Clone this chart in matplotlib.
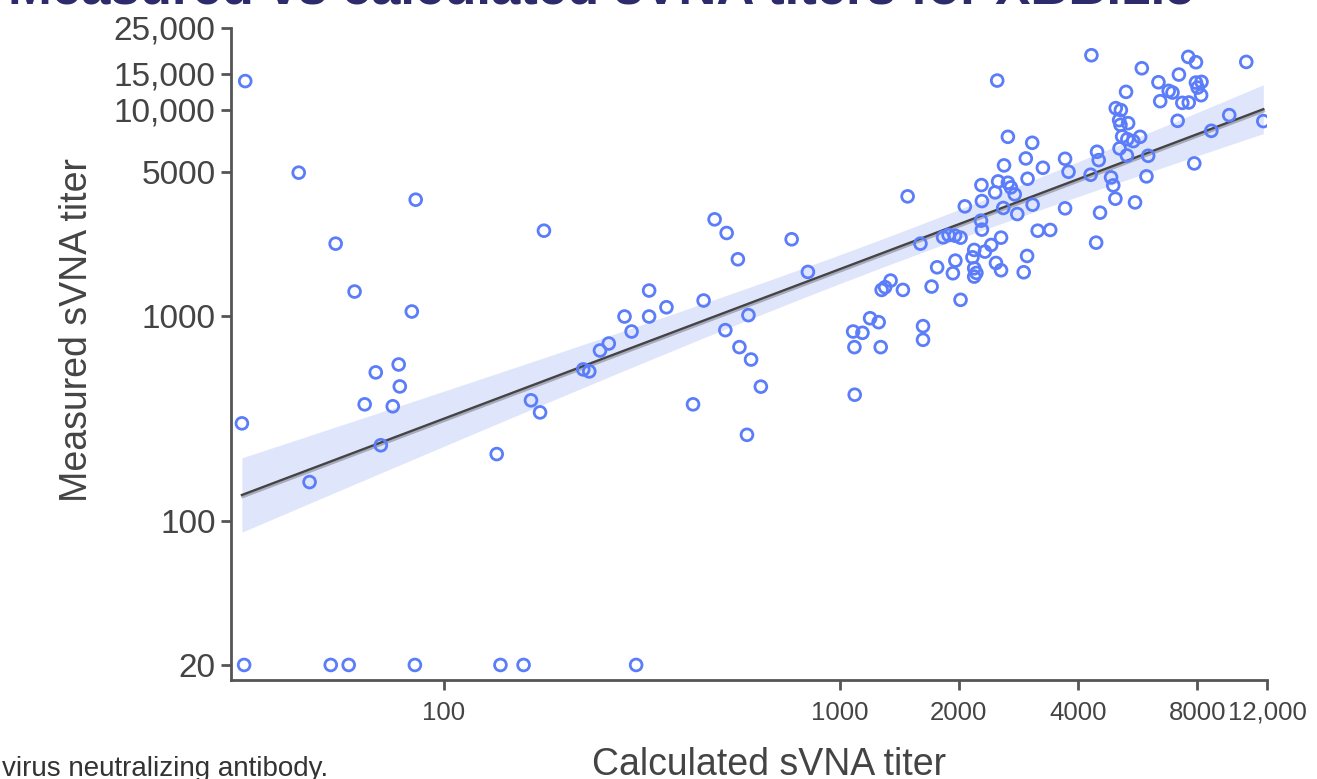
# Measured vs calculated sVNA titers (log-log scatter with fitted line)
import numpy as np
import matplotlib.pyplot as plt
import matplotlib.patheffects as pe
from matplotlib.ticker import FixedLocator, NullLocator

plt.rcParams['font.family'] = ['Liberation Sans', 'DejaVu Sans']

# calculated titer (x) and measured titer (y)
calc_titer = [31.5, 43, 53.3, 59.5, 83, 84.9, 30.9, 45.8, 63.1, 67.3,
              76.9, 77.4, 74.3, 69.3, 179, 136, 166, 175, 225, 233,
              248, 261, 286, 298, 330, 330, 365, 453, 483, 518,
              553, 756, 831, 588, 514, 558, 597, 632, 426, 583,
              31.3, 51.8, 57.5, 84.5, 139, 159, 306,
              1484, 1081, 1141, 1089, 1193, 1254, 1269, 1276, 1302, 1344,
              1444, 1623, 1623, 1706, 1599, 1762, 1824, 1883, 1955, 2019,
              1931, 1959, 2019, 2070, 2164, 2186, 2186, 2186, 2214, 2280,
              2286, 2274, 2286, 2326, 2413, 2469, 2481, 2555, 2555, 2499,
              2659, 2600, 2512, 2659, 2705, 2767, 2588, 2808, 3063, 2951,
              2981, 3259, 3070, 2973, 2915, 3162, 3401, 3708, 3783, 3708,
              4322, 4466, 4510, 4302, 4845, 4907, 4968, 5570, 4544, 4442,
              4979, 5129, 5078, 5117, 5350, 5168, 5090, 5325, 5514, 5737,
              5312, 6012, 5953, 5286, 5794, 6383, 6774, 6926, 6448, 7189,
              7591, 7938, 7938, 8198, 8018, 8180, 7333, 7613, 7136, 7860,
              8681, 9634, 10637, 11745, 1091]
meas_titer = [13800, 4950, 2236, 1308, 1046, 3657, 299, 155, 370, 529,
              578, 452, 362, 234, 2585, 212, 387, 338, 547, 535,
              676, 731, 989, 836, 989, 1323, 1097, 1183, 2935, 2519,
              1877, 2348, 1629, 1004, 849, 702, 611, 451, 370, 263,
              20, 20, 20, 20, 20, 20, 20,
              3796, 836, 824, 702, 970, 928, 702, 1332, 1373, 1479,
              1332, 888, 762, 1383, 2236, 1716, 2401, 2464, 2445, 2391,
              1605, 1849, 1192, 3394, 1919, 2084, 1697, 1546, 1611, 4308,
              3602, 2892, 2616, 2045, 2203, 3969, 1801, 2391, 1660, 13880,
              7394, 5369, 4487, 4422, 4197, 3881, 3333, 3115, 6916, 5804,
              4624, 5229, 3458, 1948, 1623, 2585, 2606, 5782, 5000, 3320,
              18430, 6254, 5696, 4836, 4693, 4292, 3698, 3548, 3162, 2261,
              10193, 9968, 8913, 8456, 8614, 7424, 6492, 7204, 7047, 7394,
              6001, 5979, 4747, 12230, 15930, 13622, 12366, 12137, 11018, 14845,
              18088, 17041, 13572, 13675, 12831, 11784, 10815, 10856, 8845, 5490,
              7907, 9425, 17100, 8815, 412]

x_ticks = [100, 1000, 2000, 4000, 8000, 12000]
x_tick_labels = ['100', '1000', '2000', '4000', '8000', '12,000']
y_ticks = [20, 100, 1000, 5000, 10000, 15000, 25000]
y_tick_labels = ['20', '100', '1000', '5000', '10,000', '15,000', '25,000']

point_color = '#5b7dfa'
band_color = '#dfe5fb'
axis_color = '#555555'
text_color = '#444444'

# linear fit in log-log space with 95% confidence band
lx = np.log10(calc_titer)
ly = np.log10(meas_titer)
n = len(lx)
slope, intercept = np.polyfit(lx, ly, 1)
resid = ly - (slope * lx + intercept)
s = np.sqrt(np.sum(resid ** 2) / (n - 2))
sxx = np.sum((lx - lx.mean()) ** 2)
gx = np.linspace(lx.min(), lx.max(), 200)
gy = slope * gx + intercept
half = 1.97 * s * np.sqrt(1.0 / n + (gx - lx.mean()) ** 2 / sxx)

fig = plt.figure(figsize=(13.17, 7.79), dpi=100)
ax = fig.add_axes([231 / 1317, 1 - 680 / 779, 1036 / 1317, 652 / 779])

ax.fill_between(10 ** gx, 10 ** (gy - half), 10 ** (gy + half),
                color=band_color, lw=0, zorder=1)
ax.plot(10 ** gx, 10 ** gy, color='#444444', lw=1.7, zorder=2,
        path_effects=[pe.SimpleLineShadow(offset=(0.5, -1.5), alpha=0.25),
                      pe.Normal()])
ax.scatter(calc_titer, meas_titer, s=72, facecolors='none',
           edgecolors=point_color, linewidths=2.0, zorder=3)

ax.set_xscale('log')
ax.set_yscale('log')
ax.set_xlim(29, 12000)
ax.set_ylim(16.9, 25000)

ax.xaxis.set_major_locator(FixedLocator(x_ticks))
ax.xaxis.set_minor_locator(NullLocator())
ax.set_xticklabels(x_tick_labels)
ax.yaxis.set_major_locator(FixedLocator(y_ticks))
ax.yaxis.set_minor_locator(NullLocator())
ax.set_yticklabels(y_tick_labels)

for side in ['top', 'right']:
    ax.spines[side].set_visible(False)
for side in ['left', 'bottom']:
    ax.spines[side].set_color(axis_color)
    ax.spines[side].set_linewidth(2)

ax.tick_params(axis='both', direction='out', length=7, width=2, color=axis_color)
ax.tick_params(axis='x', labelsize=18.5, labelcolor=text_color, pad=8)
ax.tick_params(axis='y', labelsize=24, labelcolor=text_color, pad=4)

ax.set_xlabel('Calculated sVNA titer', fontsize=27, color=text_color)
ax.xaxis.set_label_coords(0.519, -0.103)
ax.set_ylabel('Measured sVNA titer', fontsize=27, color=text_color)
ax.yaxis.set_label_coords(-0.131, 0.537)

fig.text(1195 / 1317, 1 - 3 / 779, 'Measured vs calculated sVNA titers for XBB.1.5',
         ha='right', va='baseline', fontsize=38, fontweight='bold', color='#2d2b6b')
fig.text(328 / 1317, 1 - 776 / 779, 'sVNA, surrogate virus neutralizing antibody.',
         ha='right', va='baseline', fontsize=20, color='#333333')

plt.savefig('out.png', dpi=100)
